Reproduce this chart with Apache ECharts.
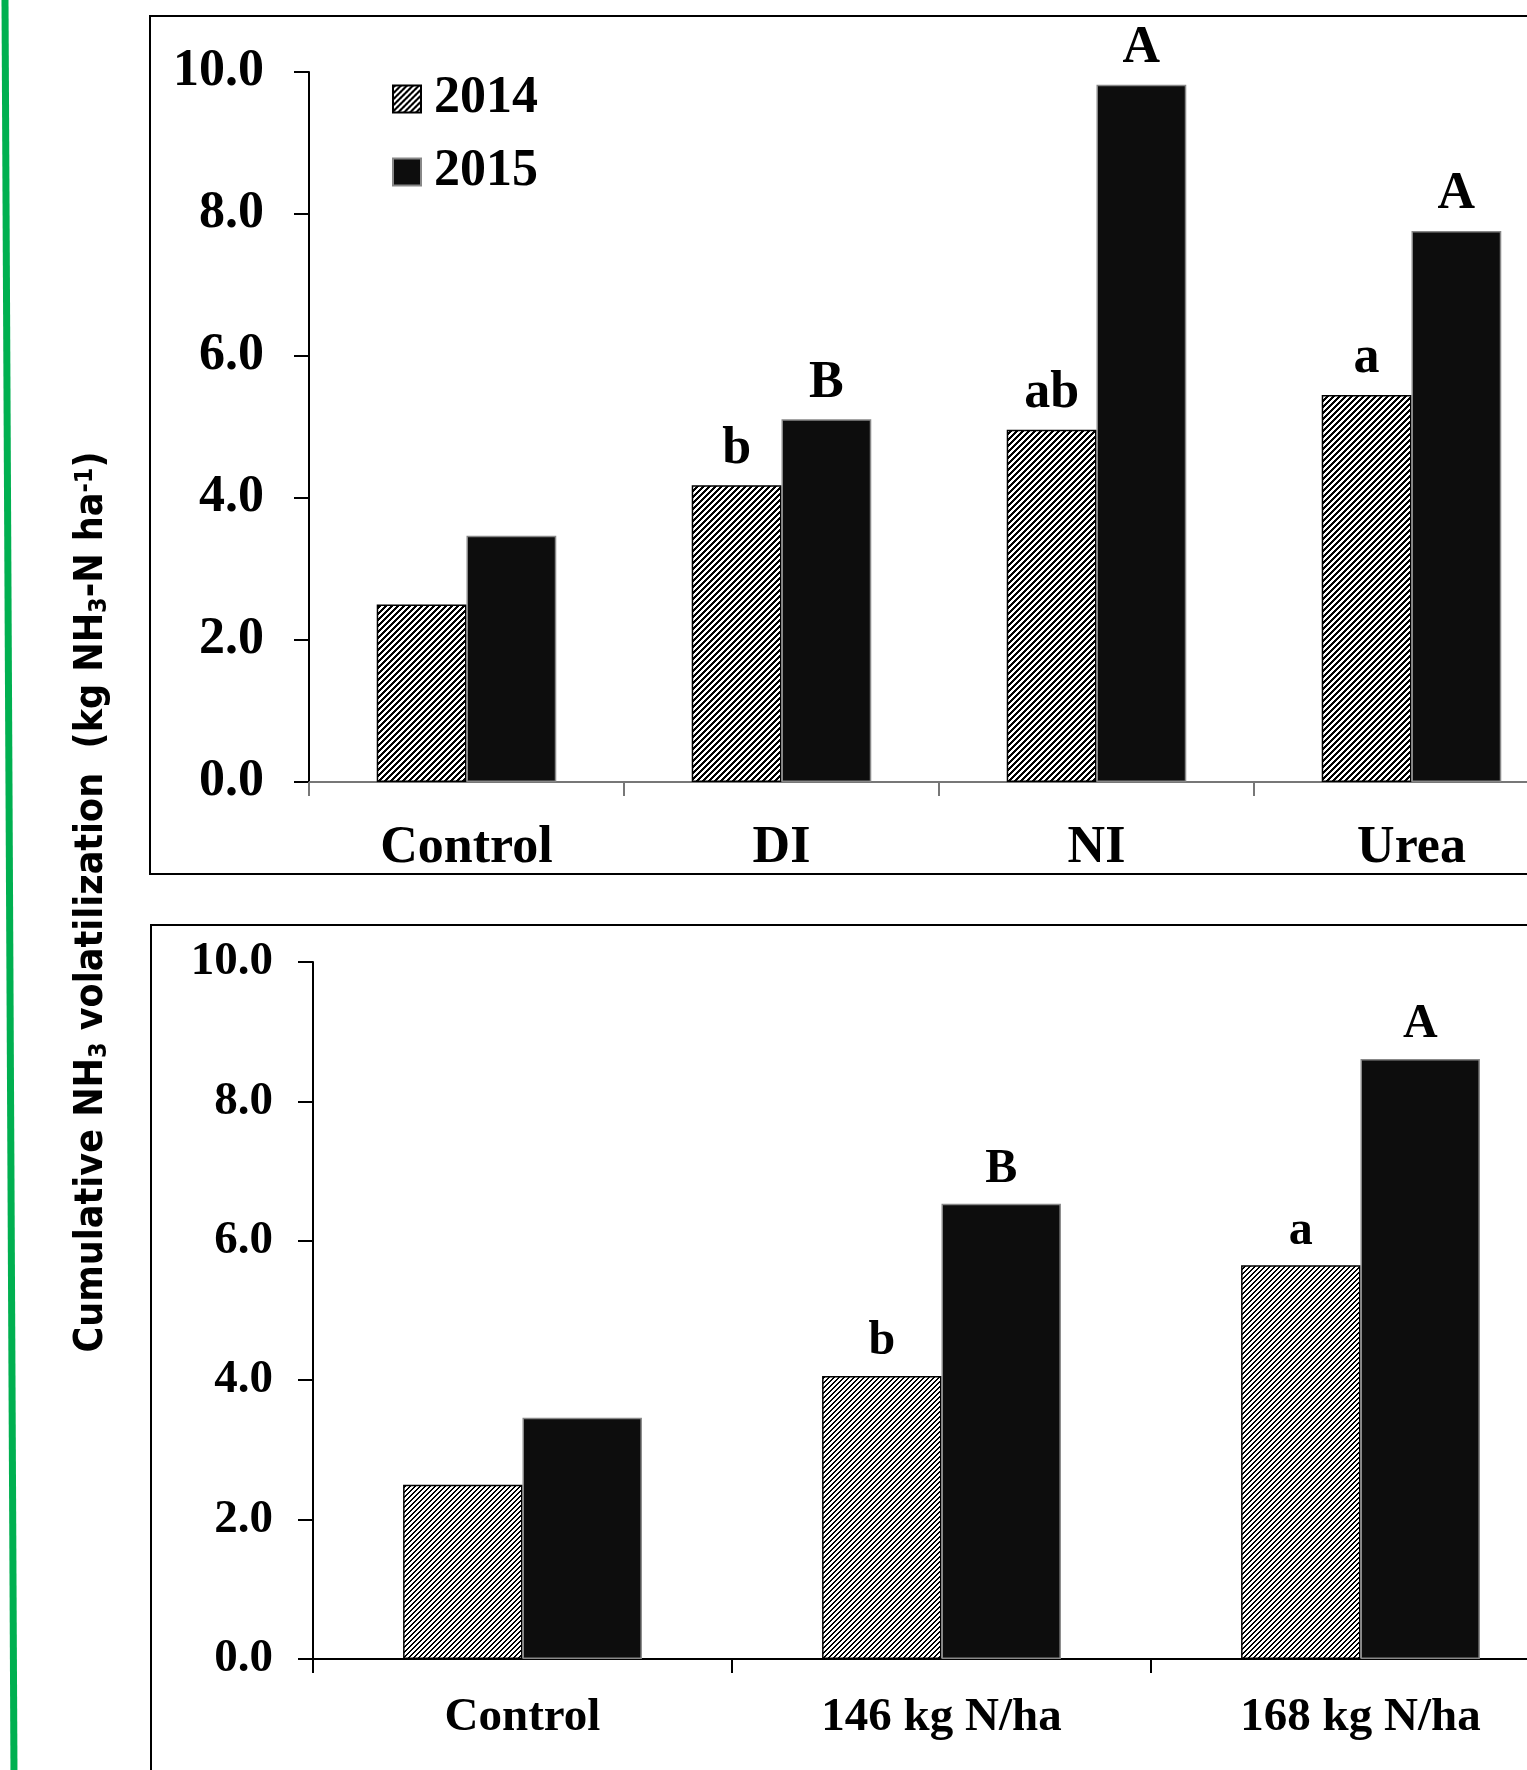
<!DOCTYPE html>
<html>
<head>
<meta charset="utf-8">
<script src="https://cdn.jsdelivr.net/npm/echarts@6/dist/echarts.min.js"></script>
<style>
html,body{margin:0;padding:0;background:#fff;overflow:hidden;width:1527px;height:1770px;}
#chart{width:1620px;height:1770px;}
</style>
</head>
<body>
<div id="chart"></div>
<script>
// ---- data ----
const topCategories = ['Control', 'DI', 'NI', 'Urea'];
const top2014 = [2.50, 4.18, 4.96, 5.45];
const top2015 = [3.47, 5.11, 9.82, 7.76];
const topLetters2014 = ['', 'b', 'ab', 'a'];
const topLetters2015 = ['', 'B', 'A', 'A'];

const bottomCategories = ['Control', '146 kg N/ha', '168 kg N/ha'];
const bottom2014 = [2.50, 4.06, 5.65];
const bottom2015 = [3.46, 6.53, 8.61];
const bottomLetters2014 = ['', 'b', 'a'];
const bottomLetters2015 = ['', 'B', 'A'];

const seriesNames = ['2014', '2015'];
const yTitle = 'Cumulative NH{sub|3} volatilization  (kg NH{sub|3}-N ha{sup|-1})';

// ---- hatch pattern ----
function makeHatch(n, w) {
  const c = document.createElement('canvas');
  c.width = n; c.height = n;
  const ctx = c.getContext('2d');
  const img = ctx.createImageData(n, n);
  for (let y = 0; y < n; y++) {
    for (let x = 0; x < n; x++) {
      const k = (y * n + x) * 4;
      const on = ((x + y) % n) < w;
      const v = on ? 0 : 255;
      img.data[k] = v; img.data[k + 1] = v; img.data[k + 2] = v; img.data[k + 3] = 255;
    }
  }
  ctx.putImageData(img, 0, 0);
  return c;
}
const hatchTop = { image: makeHatch(6, 3), repeat: 'repeat' };
const hatchBottom = { image: makeHatch(5, 2), repeat: 'repeat' };

const serif = 'Liberation Serif, Times New Roman, serif';
const chart = echarts.init(document.getElementById('chart'), null, { renderer: 'canvas' });

function yAxis(gi, fs, margin) {
  return {
    type: 'value', gridIndex: gi, min: 0, max: 10, interval: 2,
    axisLine: { show: true, lineStyle: { color: '#000', width: 2 } },
    axisTick: { show: true, inside: false, length: 15, lineStyle: { color: '#000', width: 2 } },
    splitLine: { show: false },
    axisLabel: {
      formatter: v => v.toFixed(1), fontFamily: serif, fontWeight: 'bold',
      fontSize: fs, color: '#000', margin: margin
    }
  };
}
function xAxis(gi, cats, fs, margin, col) {
  return {
    type: 'category', gridIndex: gi, data: cats,
    axisLine: { show: true, lineStyle: { color: col, width: 2 } },
    axisTick: { show: true, inside: false, length: 14, alignWithLabel: false, lineStyle: { color: col, width: 2 } },
    axisLabel: { fontFamily: serif, fontWeight: 'bold', fontSize: fs, color: '#000', margin: margin, interval: 0 }
  };
}
function barSeries(name, gi, data, letters, fill, border, fs) {
  return {
    name: name, type: 'bar', xAxisIndex: gi, yAxisIndex: gi, data: data,
    barGap: '0%', barCategoryGap: '43%',
    itemStyle: { color: fill, borderColor: border, borderWidth: 1.5 },
    emphasis: { disabled: true },
    label: {
      show: true, position: 'top', distance: 10,
      formatter: p => letters[p.dataIndex],
      fontFamily: serif, fontWeight: 'bold', fontSize: fs, color: '#000'
    }
  };
}

const option = {
  animation: false,
  backgroundColor: '#fff',
  grid: [
    { left: 309, top: 72, width: 1260, height: 710, containLabel: false },
    { left: 313, top: 962, width: 1257, height: 697, containLabel: false }
  ],
  legend: {
    orient: 'vertical', left: 387, top: 66,
    data: seriesNames,
    icon: 'rect',
    itemWidth: 28, itemHeight: 27, itemGap: 17,
    selectedMode: false,
    textStyle: { fontFamily: serif, fontWeight: 'bold', fontSize: 52, color: '#000', lineHeight: 56, padding: [0, 0, 0, 8] }
  },
  xAxis: [
    xAxis(0, topCategories, 52, 41, '#777'),
    xAxis(1, bottomCategories, 47, 35, '#000')
  ],
  yAxis: [ yAxis(0, 52, 45), yAxis(1, 47, 40) ],
  series: [
    barSeries(seriesNames[0], 0, top2014, topLetters2014, hatchTop, '#000', 52),
    barSeries(seriesNames[1], 0, top2015, topLetters2015, '#0d0d0d', '#888', 52),
    barSeries(seriesNames[0], 1, bottom2014, bottomLetters2014, hatchBottom, '#000', 48),
    barSeries(seriesNames[1], 1, bottom2015, bottomLetters2015, '#0d0d0d', '#888', 48)
  ],
  graphic: [
    { type: 'rect', silent: true, z: -1, shape: { x: 150, y: 16, width: 1500, height: 858 },
      style: { fill: null, stroke: '#000', lineWidth: 2 } },
    { type: 'rect', silent: true, z: -1, shape: { x: 151, y: 925, width: 1500, height: 1000 },
      style: { fill: null, stroke: '#000', lineWidth: 2 } },
    { type: 'line', silent: true, shape: { x1: 5, y1: 0, x2: 14, y2: 1770 },
      style: { stroke: '#00b050', lineWidth: 7 } },
    { type: 'text', silent: true, x: 92, y: 902, rotation: Math.PI / 2,
      style: {
        text: yTitle, align: 'center', verticalAlign: 'middle',
        font: 'bold 39px "Liberation Sans Narrow", "DejaVu Sans Condensed", sans-serif',
        fill: '#000',
        rich: {
          sub: { font: 'bold 25px "Liberation Sans Narrow", "DejaVu Sans Condensed", sans-serif', verticalAlign: 'bottom', padding: [14, 0, 0, 0], fill: '#000' },
          sup: { font: 'bold 25px "Liberation Sans Narrow", "DejaVu Sans Condensed", sans-serif', verticalAlign: 'top', padding: [0, 0, 14, 0], fill: '#000' }
        }
      } }
  ]
};
chart.setOption(option);
</script>
</body>
</html>
